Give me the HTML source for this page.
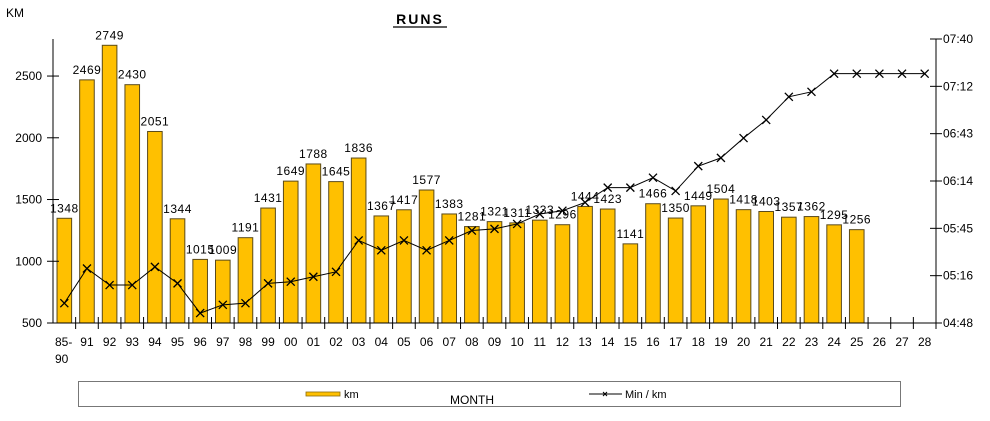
<!DOCTYPE html>
<html><head><meta charset="utf-8"><style>
body{margin:0;background:#fff;}
svg text{font-family:"Liberation Sans",sans-serif;}
</style></head><body>
<svg id="chart" width="990" height="416" viewBox="0 0 990 416" xmlns="http://www.w3.org/2000/svg">
<text x="420" y="24" text-anchor="middle" font-size="14" font-weight="bold" letter-spacing="2">RUNS</text>
<line x1="393" y1="27" x2="447" y2="27" stroke="#000" stroke-width="1.2"/>
<text x="6" y="17" font-size="12">KM</text>
<g id="bars"></g>
<g id="axes"></g>
<g id="line"></g>
<g id="labels"></g>
<rect x="78.5" y="381.5" width="822" height="25" fill="#fff" stroke="#777"/>
<rect x="306" y="392" width="34" height="4" fill="#FFC000" stroke="#8a6a10" stroke-width="0.8"/>
<text x="344" y="398" font-size="11">km</text>
<line x1="589" y1="394" x2="622" y2="394" stroke="#000"/>
<path d="M603,392 l4,4 M607,392 l-4,4" stroke="#000"/>
<text x="625" y="398" font-size="11">Min / km</text>
<text x="450" y="404" font-size="12">MONTH</text>
</svg>
<script>
const categories=["85-90","91","92","93","94","95","96","97","98","99","00","01","02","03","04","05","06","07","08","09","10","11","12","13","14","15","16","17","18","19","20","21","22","23","24","25","26","27","28"];
const kmValues=[1348,2469,2749,2430,2051,1344,1015,1009,1191,1431,1649,1788,1645,1836,1367,1417,1577,1383,1281,1321,1311,1333,1296,1444,1423,1141,1466,1350,1449,1504,1418,1403,1357,1362,1295,1256,null,null,null];
const paceSeconds=[300,321,311,311,322,312,294,299,300,312,313,316,319,338,332,338,332,338,344,345,348,354,356,361,370,370,376,368,383,388,400,411,425,428,439,439,439,439,439];
const leftTicks=[500,1000,1500,2000,2500];
const rightTicks=["04:48","05:16","05:45","06:14","06:43","07:12","07:40"];
const NS="http://www.w3.org/2000/svg";
const X0=53,X1=936,Y0=323,Y1=39;
const cw=(X1-X0)/categories.length;
const yL=v=>Y0-(v-500)*(Y0-Y1)/2300;
const yR=s=>Y0-(s-288)*(Y0-Y1)/172;
const xc=i=>X0+cw*(i+0.5);
function mk(tag,attrs,parent){const e=document.createElementNS(NS,tag);for(const k in attrs)e.setAttribute(k,attrs[k]);parent.appendChild(e);return e;}
const gB=document.getElementById('bars'),gA=document.getElementById('axes'),gL=document.getElementById('line'),gT=document.getElementById('labels');
kmValues.forEach((v,i)=>{if(v==null)return;
 const r=mk('rect',{x:xc(i)-7.3,y:yL(v),width:14.6,height:Y0-yL(v),fill:'#FFC000',stroke:'#5a4a1a','stroke-width':1},gB);
 
 
 const t=mk('text',{x:xc(i),y:yL(v)-6,'text-anchor':'middle','font-size':12,'letter-spacing':0.5},gT);t.textContent=v;
 
 
});
mk('line',{x1:X0,y1:Y1,x2:X0,y2:Y0,stroke:'#000'},gA);
mk('line',{x1:X1,y1:Y1,x2:X1,y2:Y0,stroke:'#000'},gA);
mk('line',{x1:X0,y1:Y0,x2:X1,y2:Y0,stroke:'#000'},gA);
leftTicks.forEach(v=>{const y=yL(v);mk('line',{x1:X0-6,y1:y,x2:X0+6,y2:y,stroke:'#000'},gA);
 const t=mk('text',{x:X0-11,y:y+4,'text-anchor':'end','font-size':12},gA);t.textContent=v;
 
 });
rightTicks.forEach((s,i)=>{const y=Y0-i*(Y0-Y1)/6;mk('line',{x1:X1-6,y1:y,x2:X1+6,y2:y,stroke:'#000'},gA);
 const t=mk('text',{x:X1+7,y:y+4,'font-size':12},gA);t.textContent=s;
 
 });
categories.forEach((c,i)=>{const x=X0+cw*i;if(i>0)mk('line',{x1:x,y1:Y0-6,x2:x,y2:Y0+6,stroke:'#000'},gA);
 const parts=c.split('-');
 const t=mk('text',{x:i==0?X0+2:xc(i),y:Y0+23,'text-anchor':i==0?'start':'middle','font-size':12},gA);t.textContent=parts.length>1?parts[0]+'-':c;
 
 
 if(parts.length>1){const t2=mk('text',{x:X0+2,y:Y0+40,'font-size':12},gA);t2.textContent=parts[1];}
});
mk('line',{x1:X1,y1:Y0,x2:X1,y2:Y0+6,stroke:'#000'},gA);
const pts=paceSeconds.map((s,i)=>xc(i)+','+yR(s)).join(' ');
const pl=mk('polyline',{points:pts,fill:'none',stroke:'#000','stroke-width':1},gL);


paceSeconds.forEach((s,i)=>{const x=xc(i),y=yR(s);
 const m=mk('path',{d:`M${x-4},${y-4}L${x+4},${y+4}M${x+4},${y-4}L${x-4},${y+4}`,stroke:'#000','stroke-width':1.3},gL);
 
 });
</script>
</body></html>
